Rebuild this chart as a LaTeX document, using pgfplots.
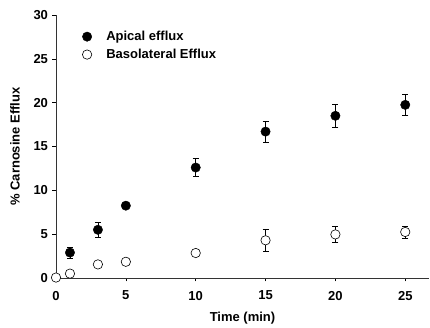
\documentclass[border=0pt]{standalone}
\usepackage{fontspec}
\setmainfont{Liberation Sans}
\usepackage{pgfplots}
\pgfplotsset{compat=1.18}
\begin{document}
\begin{tikzpicture}
\begin{axis}[
  scale only axis,
  width=373pt, height=263pt,
  xmin=0, xmax=26.7, ymin=0, ymax=30,
  axis x line*=bottom, axis y line*=left,
  axis line style={line width=0.8pt, draw=black!80},
  xtick={0,5,10,15,20,25}, ytick={0,5,10,15,20,25,30},
  tick align=outside, major tick length=3.5pt,
  tick style={line width=0.6pt, black},
  tick label style={font=\fontsize{13}{15}\selectfont\bfseries},
  xticklabel style={yshift=-6pt},
  yticklabel style={xshift=-1pt},
  /pgf/number format/assume math mode=true,
  xlabel={Time (min)}, ylabel={\% Carnosine Efflux},
  label style={font=\fontsize{13}{15}\selectfont\bfseries},
  xlabel style={at={(rel axis cs:0.5,0)}, anchor=center, yshift=-40pt},
  ylabel style={at={(rel axis cs:0,0.5)}, anchor=center, yshift=41pt},
  clip=false,
  legend style={draw=none, fill=none, at={(rel axis cs:0,1)}, anchor=north west,
    xshift=26pt, yshift=-14pt,
    font=\fontsize{13}{15}\selectfont\bfseries, row sep=3pt, inner sep=0pt},
  legend cell align=left,
  legend image code/.code={\draw plot coordinates {(0pt,0pt)}; \path (-4.7pt,0pt) (17pt,0pt);},
]
\addplot[only marks, mark=*, mark size=4.7pt, mark options={fill=black, draw=black},
  error bars/.cd, y dir=both, y explicit, error mark options={rotate=90, mark size=3pt, line width=0.6pt}, error bar style={line width=0.6pt}]
  table[x=x, y=y, y error=e] {
x y e
1 2.9 0.6
3 5.5 0.9
5 8.25 0.3
10 12.6 1.0
15 16.7 1.2
20 18.5 1.3
25 19.75 1.15
};
\addlegendentry{Apical efflux}
\addplot[only marks, mark=*, mark size=4.7pt, mark options={fill=white, draw=black, line width=0.6pt},
  error bars/.cd, y dir=both, y explicit, error mark options={rotate=90, mark size=3pt, line width=0.6pt}, error bar style={line width=0.6pt}]
  table[x=x, y=y, y error=e] {
x y e
0 0.05 0
1 0.5 0.1
3 1.55 0.1
5 1.85 0.1
10 2.85 0.1
15 4.3 1.2
20 4.97 0.9
25 5.25 0.7
};
\addlegendentry{Basolateral Efflux}
\path (rel axis cs:0,0) ++(-56pt,-50pt);
\path (rel axis cs:1,1) ++(1pt,15pt);
\end{axis}
\end{tikzpicture}
\end{document}
